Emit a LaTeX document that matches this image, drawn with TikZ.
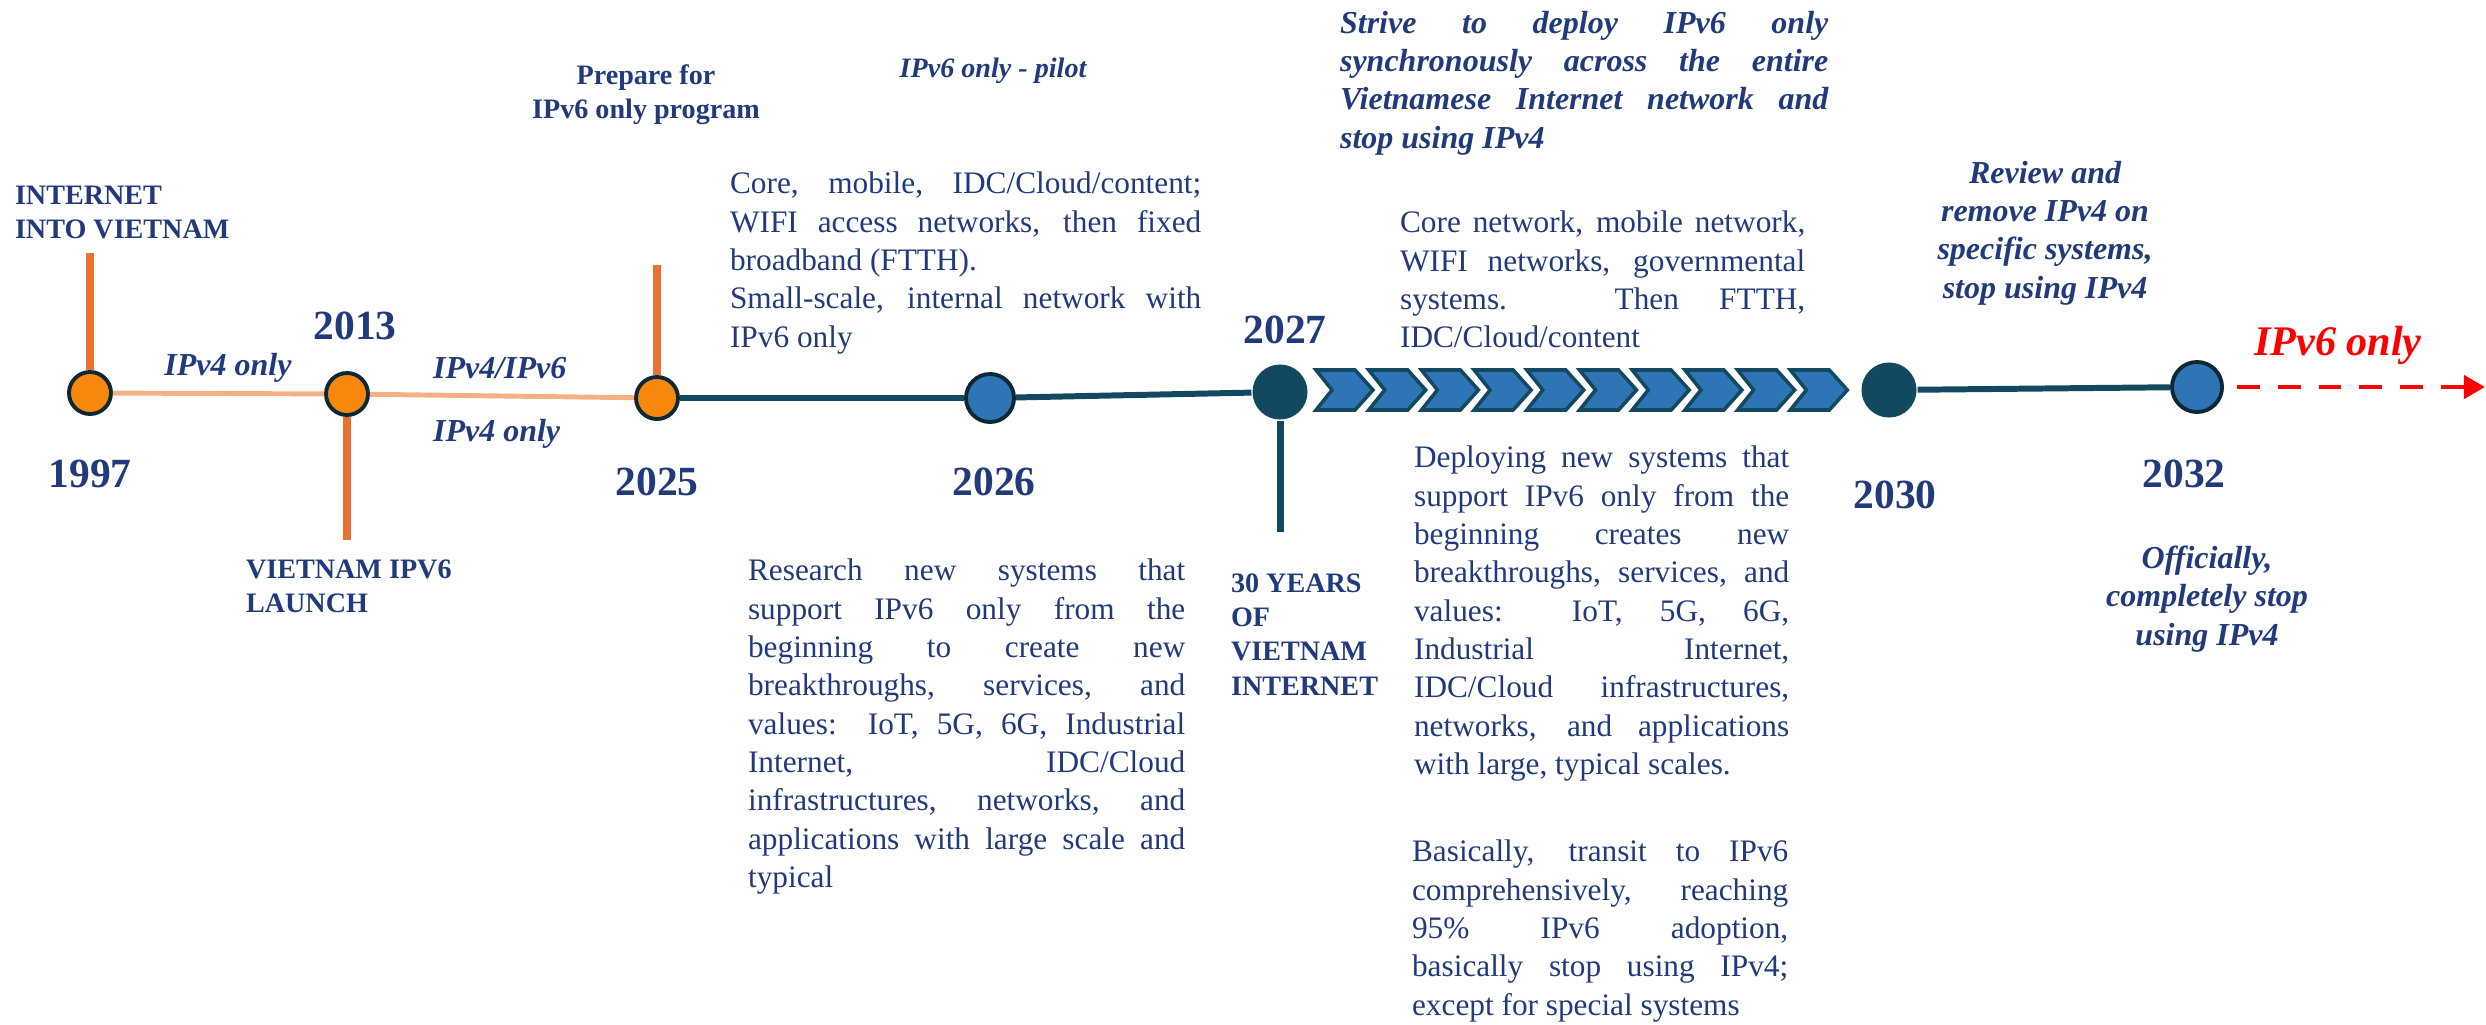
\documentclass[tikz,border=0pt]{standalone}
\usepackage{fontspec}
\setmainfont{Liberation Serif}
\usepackage{xcolor}
\usepackage{tikz}
\usetikzlibrary{arrows.meta}
\usetikzlibrary{calc}
\usetikzlibrary{positioning}

\definecolor{navytxt}{RGB}{33,58,124}
\definecolor{ringcol}{RGB}{12,40,52}
\definecolor{dotorange}{RGB}{248,135,14}
\definecolor{barorange}{RGB}{233,113,50}
\definecolor{salmon}{RGB}{244,177,131}
\definecolor{tealcol}{RGB}{18,72,96}
\definecolor{dotblue}{RGB}{46,117,182}

\newcommand{\bodytext}{\fontsize{8.9pt}{10.9pt}\selectfont}
\newcommand{\keytext}{\fontsize{8pt}{9.7pt}\selectfont\bfseries}
\newcommand{\phasetext}{\fontsize{9.1pt}{10.9pt}\selectfont\bfseries\itshape}
\newcommand{\pilottext}{\fontsize{8pt}{10pt}\selectfont\bfseries\itshape}
\newcommand{\yeartext}{\fontsize{11.8pt}{14pt}\selectfont\bfseries}
\newcommand{\goaltext}{\fontsize{12pt}{14pt}\selectfont\bfseries\itshape}

\tolerance=10000
\hyphenpenalty=10000

\begin{document}
\begin{tikzpicture}[x=0.01cm, y=-0.01cm, semithick, text=navytxt]
	\tikzstyle{dot}=[circle, inner sep=0pt, line width=1.1pt, draw=ringcol]
	\tikzstyle{olddot}=[dot, fill=dotorange, minimum size=0.42cm]
	\tikzstyle{newdot}=[dot, fill=dotblue]
	\tikzstyle{darkdot}=[circle, inner sep=0pt, fill=tealcol, minimum size=0.55cm]
	\tikzstyle{v4link}=[draw=salmon, line width=1.4pt]
	\tikzstyle{v6link}=[draw=tealcol, line width=1.7pt]
	\tikzstyle{bar}=[draw=barorange, line width=2pt]
	\tikzstyle{chev}=[fill=dotblue, draw=tealcol, line width=1pt]
	\tikzstyle{future}=[draw=red, line width=1.4pt, dash pattern=on 6.5pt off 5.1pt, -{Triangle[length=6pt,width=6.5pt]}, shorten <=0.13cm]
	\tikzstyle{yearlbl}=[inner sep=0pt, font=\yeartext]
	\tikzstyle{keyline}=[inner sep=0pt, font=\keytext]
	\tikzstyle{phaselbl}=[inner sep=0pt, font=\phasetext]
	\tikzstyle{para}=[anchor=north west, inner sep=0pt, align=justify, font=\bodytext]

	\useasboundingbox (0,0) rectangle (2486,1024);

	% milestones
	\node[olddot] (c1997) at (90,393) {};
	\node[olddot] (c2013) at (347,394) {};
	\node[olddot] (c2025) at (657,398) {};
	\node[newdot, minimum size=0.48cm] (c2026) at (990,398) {};
	\node[darkdot] (c2027) at (1280,392) {};
	\node[darkdot] (c2030) at (1889,390) {};
	\node[newdot, minimum size=0.50cm] (c2032) at (2197,387) {};

	\coordinate (t1997) at (90,253);
	\coordinate (b2013) at (347,540);
	\coordinate (t2025) at (657,265);
	\coordinate (b2027) at (1280,532);
	\coordinate (tip) at (2485,387);

	\path[v4link] (c1997) edge (c2013)
		(c2013) edge (c2025);
	\path[v6link] (c2025) edge (c2026)
		(c2026) edge (c2027)
		(c2030) edge (c2032);
	\path[bar] (t1997) edge (c1997)
		(c2013) edge (b2013)
		(t2025) edge (c2025);
	\path[draw=tealcol, line width=2pt] (c2027) edge (b2027);
	\draw[future] (c2032) -- (tip);

	% 2027 -> 2030
	\foreach \i [evaluate=\i as \x using 1316+52.7*\i] in {0,...,9}
		\filldraw[chev] (\x,370) -- (\x+39,370) -- (\x+57,390) -- (\x+39,410) -- (\x,410) -- (\x+16,390) -- cycle;

	% years
	\node[yearlbl, below=0.43cm of c1997] (y1997) {1997};
	\node[yearlbl, above=0.30cm of c2013, xshift=0.08cm] (y2013) {2013};
	\node[yearlbl, below=0.46cm of c2025] (y2025) {2025};
	\node[yearlbl, below=0.43cm of c2026, xshift=0.04cm] (y2026) {2026};
	\node[yearlbl, above=0.18cm of c2027, xshift=0.05cm] (y2027) {2027};
	\node[yearlbl, below=0.61cm of c2030, xshift=0.06cm] (y2030) {2030};
	\node[yearlbl, below=0.45cm of c2032, xshift=-0.13cm] (y2032) {2032};

	% events
	\node[keyline, anchor=north west, align=left] (intro) at (14,185) {INTERNET\\INTO VIETNAM};
	\node[keyline, anchor=north west, align=left] (launch) at (245,559) {VIETNAM IPV6\\LAUNCH};
	\node[keyline, anchor=north west, align=left] (thirty) at (1230,573) {30 YEARS\\OF\\VIETNAM\\INTERNET};
	\node[keyline, anchor=north, align=center] (prep) at (646,64) {Prepare for\\IPv6 only program};

	% phases
	\node[phaselbl, anchor=base] (v4a) at (228,375) {IPv4 only};
	\node[phaselbl, anchor=base west] (dual) at (432,378) {IPv4/IPv6};
	\node[phaselbl, anchor=base west] (v4b) at (432,441) {IPv4 only};
	\node[phaselbl, font=\pilottext, anchor=base] (pilot) at (993,77) {IPv6 only - pilot};
	\node[phaselbl, anchor=north west, align=justify, text width=4.88cm] (strive) at (1339,10) {Strive to deploy IPv6 only\linebreak synchronously across the entire\linebreak Vietnamese Internet network and\linebreak stop using IPv4};
	\node[phaselbl, anchor=north, align=center] (review) at (2045,160) {Review and\\remove IPv4 on\\specific systems,\\stop using IPv4};
	\node[phaselbl, anchor=north, align=center] (official) at (2207,545) {Officially,\\completely stop\\using IPv4};
	\node[inner sep=0pt, text=red, font=\goaltext, anchor=base west] (goal) at (2253,355) {IPv6 only};

	% notes
	\node[para, text width=4.71cm] (pilotnote) at (729,171) {Core, mobile, IDC/Cloud/content;\linebreak WIFI access networks, then fixed\linebreak broadband (FTTH).\\ Small-scale, internal network with\linebreak IPv6 only};
	\node[para, text width=4.37cm] (research) at (747,558) {Research new systems that\linebreak support IPv6 only from the\linebreak beginning to create new\linebreak breakthroughs, services, and\linebreak values: IoT, 5G, 6G, Industrial\linebreak Internet, IDC/Cloud\linebreak infrastructures, networks, and\linebreak applications with large scale and\linebreak typical};
	\node[para, text width=4.05cm] (corenote) at (1399,210) {Core network, mobile network,\linebreak WIFI networks, governmental\linebreak systems. Then FTTH,\linebreak IDC/Cloud/content};
	\node[para, text width=3.75cm] (deploy) at (1413,445) {Deploying new systems that\linebreak support IPv6 only from the\linebreak beginning creates new\linebreak breakthroughs, services, and\linebreak values: IoT, 5G, 6G,\linebreak Industrial Internet,\linebreak IDC/Cloud infrastructures,\linebreak networks, and applications\linebreak with large, typical scales.};
	\node[para, text width=3.76cm] (basic) at (1411,839) {Basically, transit to IPv6\linebreak comprehensively, reaching\linebreak 95\% IPv6 adoption,\linebreak basically stop using IPv4;\linebreak except for special systems};
\end{tikzpicture}
\end{document}
